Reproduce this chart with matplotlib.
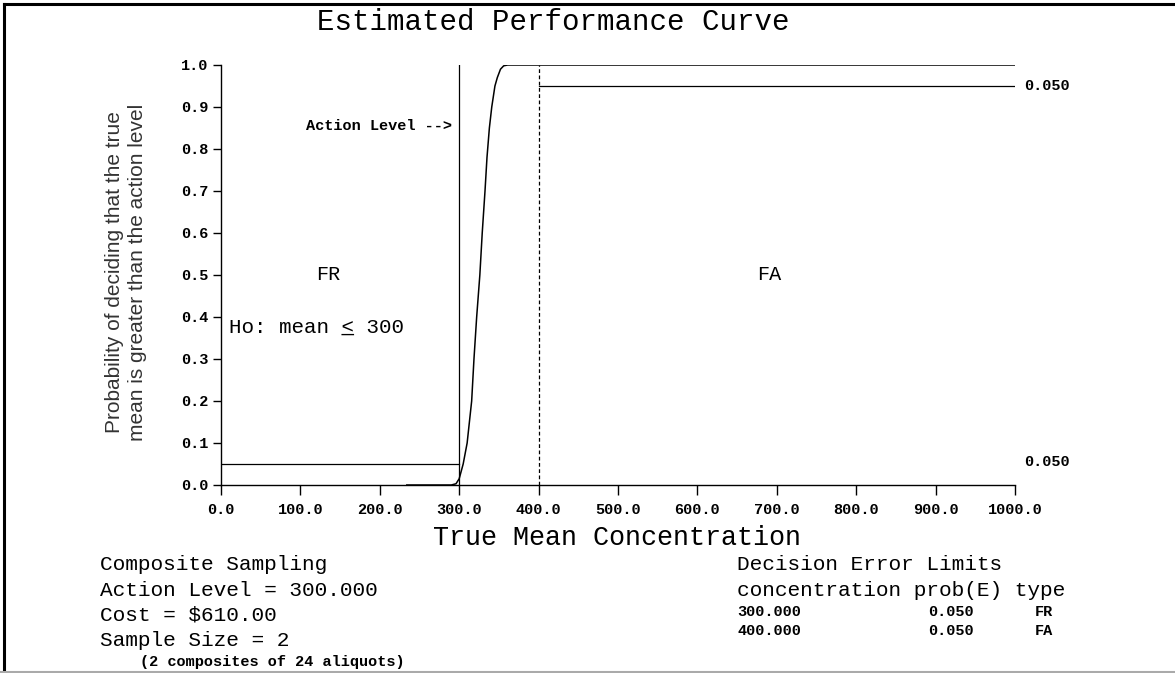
import numpy as np
import matplotlib.pyplot as plt
from matplotlib.lines import Line2D

mono = 'Liberation Mono'

# the data
conc = [234, 290, 296, 300, 305, 310, 315.7, 318.6, 322, 326, 329, 332.5, 335,
        338, 341, 345, 348, 352, 356, 361, 1000]
prob = [0.0, 0.0, 0.003, 0.015, 0.05, 0.10, 0.20, 0.30, 0.40, 0.50, 0.60, 0.70,
        0.78, 0.85, 0.90, 0.95, 0.97, 0.99, 0.998, 1.0, 1.0]

action_level = 300
gray_upper = 400
fr_limit = 0.05
fa_limit = 0.95
x_max = 1000

xticks = np.arange(0, 1001, 100)
yticks = np.arange(0, 1.01, 0.1)

small = dict(family=mono, fontsize=11, weight='bold')

fig = plt.figure(figsize=(11.75, 6.73), dpi=100)
ax = fig.add_axes([221/1175, 1-485/673, 794/1175, 420/673])

## the curve and the limits
ax.plot(conc, prob, color='black', lw=1.1)
ax.plot([0, action_level], [fr_limit, fr_limit], color='black', lw=0.9)
ax.plot([gray_upper, x_max], [fa_limit, fa_limit], color='black', lw=0.9)
ax.plot([action_level, action_level], [0, 1], color='black', lw=0.9)
ax.plot([gray_upper, gray_upper], [0, 1], color='black', lw=0.9,
        linestyle=(0, (3, 2)))

# axes and labels
ax.set_xlim(0, x_max)
ax.set_ylim(0, 1)
ax.spines['top'].set_visible(False)
ax.spines['right'].set_visible(False)
for s in ['left', 'bottom']:
    ax.spines[s].set_linewidth(1.0)
ax.set_xticks(xticks)
ax.set_xticklabels(['%.1f' % v for v in xticks])
ax.set_yticks(yticks)
ax.set_yticklabels(['%.1f' % v for v in yticks])
ax.tick_params(axis='y', direction='out', length=6, width=1.0, pad=3)
ax.tick_params(axis='x', direction='out', length=7, width=1.0, pad=6)
for lab in ax.get_xticklabels() + ax.get_yticklabels():
    lab.set(**small)

fig.text(126/1175, 1-272/673,
         'Probability of deciding that the true\nmean is greater than the action level',
         family='Liberation Sans', fontsize=15, color='#333333', rotation=90,
         linespacing=1.3, ha='center', va='center', multialignment='center')
fig.text(617/1175, 1-538/673, 'True Mean Concentration', family=mono,
         fontsize=19.3, ha='center', va='center')

# text inside the plot
ax.text(291, 0.855, 'Action Level -->', ha='right', va='center', **small)
ax.text(135, 0.5, 'FR', family=mono, fontsize=14.5, ha='center', va='center')
ax.text(690, 0.5, 'FA', family=mono, fontsize=14.5, ha='center', va='center')
ax.text(10, 0.375, 'Ho: mean < 300', family=mono, fontsize=15,
        ha='left', va='center')
ax.text(10, 0.375, '         _    ', family=mono, fontsize=15,
        ha='left', va='center')
ax.text(1012, fa_limit, '0.050', ha='left', va='center', **small)
ax.text(1012, fr_limit + 0.005, '0.050', ha='left', va='center', **small)

# title and info blocks
fig.text(553/1175, 1-22/673, 'Estimated Performance Curve', family=mono,
         fontsize=21, ha='center', va='center')

left_lines = ['Composite Sampling', 'Action Level = 300.000',
              'Cost = $610.00', 'Sample Size = 2']
for i, t in enumerate(left_lines):
    fig.text(100/1175, 1-(565 + i*25)/673, t, family=mono, fontsize=15.2,
             ha='left', va='center')
fig.text(140/1175, 1-662/673, '(2 composites of 24 aliquots)', ha='left',
         va='center', **small)

fig.text(737/1175, 1-565/673, 'Decision Error Limits', family=mono,
         fontsize=15.2, ha='left', va='center')
fig.text(737/1175, 1-590/673, 'concentration prob(E) type', family=mono,
         fontsize=15.2, ha='left', va='center')
rows = [('300.000', '0.050', 'FR'), ('400.000', '0.050', 'FA')]
for i, (c, p, t) in enumerate(rows):
    y = 1-(612 + i*19)/673
    fig.text(737/1175, y, c, ha='left', va='center', **small)
    fig.text(928/1175, y, p, ha='left', va='center', **small)
    fig.text(1035/1175, y, t, ha='left', va='center', **small)

# outer frame
fig.add_artist(Line2D([4/1175, 4/1175], [0, 1-4/673], color='black', lw=2.2,
                      transform=fig.transFigure))
fig.add_artist(Line2D([4/1175, 1], [1-4/673, 1-4/673], color='black', lw=2.2,
                      transform=fig.transFigure))
fig.add_artist(Line2D([0, 1], [1/673, 1/673], color='#aaaaaa', lw=1.5,
                      transform=fig.transFigure))

fig.savefig('out.png', dpi=100)
